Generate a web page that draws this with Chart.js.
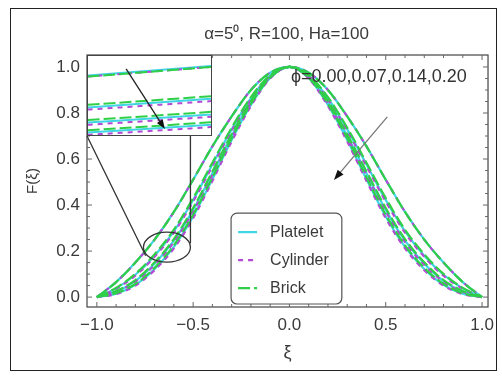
<!DOCTYPE html>
<html>
<head>
<meta charset="utf-8">
<script src="https://cdn.jsdelivr.net/npm/chart.js@4"></script>
<style>
  html, body { margin: 0; padding: 0; background: #fff; }
  #wrap { position: relative; width: 502px; height: 376px; overflow: hidden; }
  #frame { position: absolute; left: 10px; top: 8px; width: 485px; height: 361px; border: 1.5px solid #222; }
  #main { position: absolute; left: 0; top: 0; }
  #insetBox { position: absolute; background: #fff; border: 1px solid #444; box-sizing: border-box; }
  #inset { display: block; }
</style>
</head>
<body>
<div id="wrap">
  <div id="frame"></div>
  <canvas id="main" width="502" height="376"></canvas>
  <div id="insetBox"><canvas id="inset"></canvas></div>
</div>
<script>
// xi from -1 to 1, step 0.1
const xi = [-1.0, -0.9, -0.8, -0.7, -0.6, -0.5, -0.4, -0.3, -0.2, -0.1, 0.0,
            0.1, 0.2, 0.3, 0.4, 0.5, 0.6, 0.7, 0.8, 0.9, 1.0];
const phiValues = ['0.00', '0.07', '0.14', '0.20'];
const typeNames = ['Platelet', 'Cylinder', 'Brick'];
const xTicks = [-1.0, -0.5, 0.0, 0.5, 1.0];
const yTicks = [0.0, 0.2, 0.4, 0.6, 0.8, 1.0];

// phi = 0 (base fluid, same for all shapes)
const baseFluid = [0, 0.065, 0.15, 0.25, 0.37, 0.51, 0.655, 0.785, 0.90, 0.975, 1, 0.975, 0.90, 0.785, 0.655, 0.51, 0.37, 0.25, 0.15, 0.065, 0];

const platelet07 = [0, 0.038, 0.097, 0.18, 0.286, 0.422, 0.576, 0.729, 0.864, 0.962, 1, 0.962, 0.864, 0.729, 0.576, 0.422, 0.286, 0.18, 0.097, 0.038, 0];
const platelet14 = [0, 0.024, 0.07, 0.145, 0.245, 0.379, 0.538, 0.701, 0.847, 0.956, 1, 0.956, 0.847, 0.701, 0.538, 0.379, 0.245, 0.145, 0.07, 0.024, 0];
const platelet20 = [0, 0.015, 0.053, 0.122, 0.218, 0.35, 0.512, 0.683, 0.835, 0.952, 1, 0.952, 0.835, 0.683, 0.512, 0.35, 0.218, 0.122, 0.053, 0.015, 0];

const cylinder07 = [0, 0.036, 0.093, 0.175, 0.28, 0.415, 0.569, 0.723, 0.859, 0.96, 1, 0.96, 0.859, 0.723, 0.569, 0.415, 0.28, 0.175, 0.093, 0.036, 0];
const cylinder14 = [0, 0.022, 0.067, 0.14, 0.239, 0.372, 0.531, 0.694, 0.842, 0.954, 1, 0.954, 0.842, 0.694, 0.531, 0.372, 0.239, 0.14, 0.067, 0.022, 0];
const cylinder20 = [0, 0.013, 0.05, 0.117, 0.212, 0.343, 0.505, 0.676, 0.83, 0.95, 1, 0.95, 0.83, 0.676, 0.505, 0.343, 0.212, 0.117, 0.05, 0.013, 0];

const brick07 = [0, 0.04, 0.101, 0.186, 0.293, 0.43, 0.584, 0.736, 0.869, 0.964, 1, 0.964, 0.869, 0.736, 0.584, 0.43, 0.293, 0.186, 0.101, 0.04, 0];
const brick14 = [0, 0.026, 0.074, 0.151, 0.252, 0.387, 0.546, 0.708, 0.852, 0.958, 1, 0.958, 0.852, 0.708, 0.546, 0.387, 0.252, 0.151, 0.074, 0.026, 0];
const brick20 = [0, 0.017, 0.057, 0.127, 0.225, 0.358, 0.52, 0.69, 0.84, 0.954, 1, 0.954, 0.84, 0.69, 0.52, 0.358, 0.225, 0.127, 0.057, 0.017, 0];

const seriesByType = {
  Platelet: [baseFluid, platelet07, platelet14, platelet20],
  Cylinder: [baseFluid, cylinder07, cylinder14, cylinder20],
  Brick: [baseFluid, brick07, brick14, brick20],
};

const typeStyle = {
  Platelet: { color: '#3fd6e4', dash: [], order: 3 },
  Cylinder: { color: '#b449d6', dash: [5, 5], order: 2 },
  Brick: { color: '#2fcf48', dash: [12, 4], order: 1 },
};

const FONT = 'Liberation Sans, Arial, sans-serif';
const TXT = '#3a3a3a';

function makeDatasets(width) {
  const out = [];
  typeNames.forEach(t => {
    seriesByType[t].forEach((arr, i) => {
      out.push({
        label: t + ' \u03d5=' + phiValues[i],
        data: xi.map((x, k) => ({ x, y: arr[k] })),
        borderColor: typeStyle[t].color,
        borderDash: typeStyle[t].dash,
        borderWidth: width,
        pointRadius: 0,
        fill: false,
        cubicInterpolationMode: 'monotone',
        capBezierPoints: false,
        order: typeStyle[t].order,
      });
    });
  });
  return out;
}

function arrow(ctx, x1, y1, x2, y2, lineColor, head) {
  const a = Math.atan2(y2 - y1, x2 - x1);
  ctx.save();
  ctx.setLineDash([]);
  ctx.strokeStyle = lineColor;
  ctx.lineWidth = 1.3;
  ctx.beginPath();
  ctx.moveTo(x1, y1);
  ctx.lineTo(x2 - Math.cos(a) * head * 0.6, y2 - Math.sin(a) * head * 0.6);
  ctx.stroke();
  ctx.fillStyle = '#111';
  ctx.beginPath();
  ctx.moveTo(x2, y2);
  ctx.lineTo(x2 - head * Math.cos(a - 0.35), y2 - head * Math.sin(a - 0.35));
  ctx.lineTo(x2 - head * Math.cos(a + 0.35), y2 - head * Math.sin(a + 0.35));
  ctx.closePath();
  ctx.fill();
  ctx.restore();
}

// annotation spots, in data units of the main chart
const insetRegion = { x0: -1.051, x1: -0.40, y0: 0.70, y1: 1.052 };
const zoomEllipse = { cx: -0.636, cy: 0.217, rx: 0.122, ry: 0.065 };
const mainArrow = { x1: 0.508, y1: 0.783, x2: 0.231, y2: 0.509 };
const legendBox = { x0: -0.303, x1: 0.272, y0: -0.03, y1: 0.365 };

const decorPlugin = {
  id: 'decor',
  afterDraw(chart) {
    const { ctx, chartArea: a, scales: { x, y } } = chart;
    ctx.save();
    // frame
    ctx.strokeStyle = '#444';
    ctx.lineWidth = 1.2;
    ctx.strokeRect(a.left, a.top, a.right - a.left, a.bottom - a.top);
    // inward ticks
    ctx.strokeStyle = '#666';
    ctx.lineWidth = 1;
    for (let v = -100; v <= 100; v += 10) {
      const px = x.getPixelForValue(v / 100);
      const len = v % 50 === 0 ? 5 : 3;
      ctx.beginPath();
      ctx.moveTo(px, a.bottom); ctx.lineTo(px, a.bottom - len);
      ctx.moveTo(px, a.top); ctx.lineTo(px, a.top + len);
      ctx.stroke();
    }
    for (let v = 0; v <= 100; v += 5) {
      const py = y.getPixelForValue(v / 100);
      const len = v % 20 === 0 ? 5 : 3;
      ctx.beginPath();
      ctx.moveTo(a.left, py); ctx.lineTo(a.left + len, py);
      ctx.moveTo(a.right, py); ctx.lineTo(a.right - len, py);
      ctx.stroke();
    }
    // title
    ctx.fillStyle = TXT;
    ctx.font = '17px ' + FONT;
    ctx.textAlign = 'center';
    ctx.textBaseline = 'middle';
    ctx.fillText('\u03b1=5\u2070, R=100, Ha=100', (a.left + a.right) / 2 - 1, 34);
    // phi label
    ctx.textAlign = 'left';
    ctx.font = '18px ' + FONT;
    ctx.fillStyle = '#333';
    ctx.fillText('\u03d5=' + phiValues.join(','), x.getPixelForValue(0.008), y.getPixelForValue(0.955));
    // arrow across curves
    arrow(ctx, x.getPixelForValue(mainArrow.x1), y.getPixelForValue(mainArrow.y1),
      x.getPixelForValue(mainArrow.x2), y.getPixelForValue(mainArrow.y2), '#777', 11);
    // zoom ellipse + connectors
    const ecx = x.getPixelForValue(zoomEllipse.cx), ecy = y.getPixelForValue(zoomEllipse.cy);
    const erx = x.getPixelForValue(zoomEllipse.cx + zoomEllipse.rx) - ecx;
    const ery = ecy - y.getPixelForValue(zoomEllipse.cy + zoomEllipse.ry);
    ctx.strokeStyle = '#333';
    ctx.lineWidth = 1.3;
    ctx.beginPath();
    ctx.ellipse(ecx, ecy, erx, ery, 0, 0, Math.PI * 2);
    ctx.stroke();
    ctx.beginPath();
    ctx.moveTo(x.getPixelForValue(insetRegion.x0), y.getPixelForValue(insetRegion.y0));
    ctx.lineTo(ecx + erx * Math.cos(2.7), ecy - ery * Math.sin(2.7) + ery);
    ctx.moveTo(ecx + erx, y.getPixelForValue(insetRegion.y0));
    ctx.lineTo(ecx + erx, ecy - 4);
    ctx.stroke();
    // legend
    const lx0 = x.getPixelForValue(legendBox.x0), lx1 = x.getPixelForValue(legendBox.x1);
    const ly0 = y.getPixelForValue(legendBox.y1), ly1 = y.getPixelForValue(legendBox.y0);
    ctx.fillStyle = '#fff';
    ctx.strokeStyle = '#555';
    ctx.lineWidth = 1.2;
    ctx.beginPath();
    ctx.roundRect(lx0, ly0, lx1 - lx0, ly1 - ly0, 6);
    ctx.fill();
    ctx.stroke();
    ctx.font = '16px ' + FONT;
    ctx.textAlign = 'left';
    typeNames.forEach((t, i) => {
      const ry = ly0 + 19 + i * 28;
      ctx.strokeStyle = typeStyle[t].color;
      ctx.lineWidth = 2.2;
      ctx.setLineDash(typeStyle[t].dash);
      ctx.beginPath();
      ctx.moveTo(lx0 + 7, ry);
      ctx.lineTo(lx0 + 26, ry);
      ctx.stroke();
      ctx.setLineDash([]);
      ctx.fillStyle = TXT;
      ctx.fillText(t, lx0 + 39, ry);
    });
    ctx.restore();
  }
};

const tickFont = { family: FONT, size: 17 };

const mainChart = new Chart(document.getElementById('main').getContext('2d'), {
  type: 'line',
  data: { datasets: makeDatasets(2.2) },
  options: {
    responsive: false,
    animation: false,
    layout: { padding: { top: 55, right: 9, left: 0, bottom: 0 } },
    plugins: { legend: { display: false }, tooltip: { enabled: false } },
    scales: {
      x: {
        type: 'linear', min: -1.051, max: 1.031,
        afterFit(s) { s.height = 69; },
        afterBuildTicks(s) { s.ticks = xTicks.map(v => ({ value: v })); },
        grid: { display: false, drawTicks: false },
        border: { display: false },
        ticks: {
          padding: 8, color: TXT, font: tickFont, maxRotation: 0,
          callback: v => (v < 0 ? '\u2212' + Math.abs(v).toFixed(1) : v.toFixed(1)),
        },
        title: { display: true, text: '\u03be', color: TXT, font: { family: FONT, size: 18 }, padding: { top: 0, bottom: 12 } },
      },
      y: {
        type: 'linear', min: -0.043, max: 1.052,
        afterFit(s) { s.width = 87; },
        afterBuildTicks(s) { s.ticks = yTicks.map(v => ({ value: v })); },
        grid: { display: false, drawTicks: false },
        border: { display: false },
        ticks: { padding: 7, color: TXT, font: tickFont, callback: v => v.toFixed(1) },
        title: { display: true, text: 'F(\u03be)', color: TXT, font: { family: FONT, size: 15 }, padding: { top: 24, bottom: 0 } },
      },
    },
  },
  plugins: [decorPlugin],
});

// inset: zoom of the ellipse region
const insetX = { min: -0.648, max: -0.628 };
const insetY = { min: 0.162, max: 0.362 };
const insetArrow = { x1: -0.6418, y1: 0.3295, x2: -0.6355, y2: 0.177 };

const sx = mainChart.scales.x, sy = mainChart.scales.y;
const box = document.getElementById('insetBox');
const bl = sx.getPixelForValue(insetRegion.x0), br = sx.getPixelForValue(insetRegion.x1);
const bt = sy.getPixelForValue(insetRegion.y1), bb = sy.getPixelForValue(insetRegion.y0);
box.style.left = bl + 'px';
box.style.top = bt + 'px';
box.style.width = (br - bl) + 'px';
box.style.height = (bb - bt) + 'px';
const insetCanvas = document.getElementById('inset');
insetCanvas.width = Math.round(br - bl - 2);
insetCanvas.height = Math.round(bb - bt - 2);

new Chart(insetCanvas.getContext('2d'), {
  type: 'line',
  data: { datasets: makeDatasets(2) },
  options: {
    responsive: false,
    animation: false,
    layout: { padding: 0 },
    plugins: { legend: { display: false }, tooltip: { enabled: false } },
    scales: {
      x: { type: 'linear', display: false, min: insetX.min, max: insetX.max },
      y: { type: 'linear', display: false, min: insetY.min, max: insetY.max },
    },
  },
  plugins: [{
    id: 'insetArrow',
    afterDraw(chart) {
      const { x, y } = chart.scales;
      arrow(chart.ctx, x.getPixelForValue(insetArrow.x1), y.getPixelForValue(insetArrow.y1),
        x.getPixelForValue(insetArrow.x2), y.getPixelForValue(insetArrow.y2), '#222', 10);
    }
  }],
});
</script>
</body>
</html>
